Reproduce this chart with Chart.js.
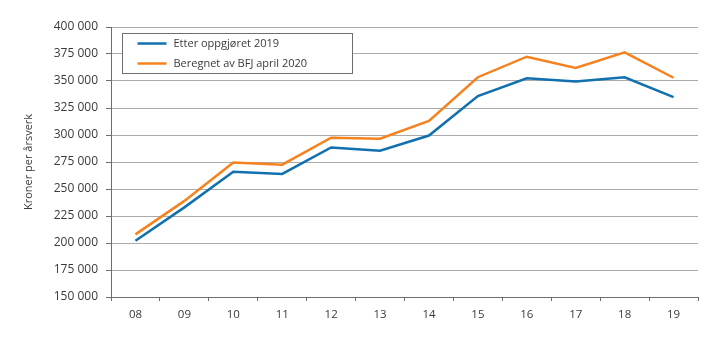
<!DOCTYPE html>
<html>
<head>
<meta charset="utf-8">
<script src="https://cdn.jsdelivr.net/npm/chart.js@4/dist/chart.umd.min.js"></script>
<style>
  html, body { margin: 0; padding: 0; background: #fff; }
  #wrap { width: 719px; height: 341px; }
</style>
</head>
<body>
<div id="wrap"><canvas id="chart" width="719" height="341"></canvas></div>
<script>
const years = ['08', '09', '10', '11', '12', '13', '14', '15', '16', '17', '18', '19'];
const etterOppgjoret = [202000, 233000, 266000, 264000, 288500, 285500, 299500, 336000, 352500, 349500, 353500, 335000];
const beregnetBFJ    = [208000, 239000, 274500, 272500, 297500, 296500, 313000, 353500, 372500, 362000, 376500, 353000];
const seriesNames = ['Etter oppgjøret 2019', 'Beregnet av BFJ april 2020'];
const yTitle = 'Kroner per årsverk';

const fontFamily = '"Open Sans", "Noto Sans", sans-serif';
const textColor = '#3a3a3a';

function fmt(v) {
  return String(v).replace(/\B(?=(\d{3})+(?!\d))/g, ' ');
}

// boxed legend drawn inside the plot area, top left
const boxLegend = {
  id: 'boxLegend',
  afterDraw(chart) {
    const ctx = chart.ctx;
    const x = 122.5, y = 33.5, w = 230, h = 40;
    ctx.save();
    ctx.fillStyle = '#fff';
    ctx.fillRect(x, y, w, h);
    ctx.strokeStyle = '#6e6e6e';
    ctx.lineWidth = 1;
    ctx.strokeRect(x, y, w, h);
    ctx.font = '11px ' + fontFamily;
    ctx.textBaseline = 'middle';
    chart.data.datasets.forEach(function(ds, i) {
      const ly = y + 10 + i * 20;
      ctx.strokeStyle = ds.borderColor;
      ctx.lineWidth = 2.5;
      ctx.beginPath();
      ctx.moveTo(x + 15, ly);
      ctx.lineTo(x + 44, ly);
      ctx.stroke();
      ctx.fillStyle = textColor;
      ctx.fillText(ds.label, x + 51, ly);
    });
    ctx.restore();
  }
};

new Chart(document.getElementById('chart').getContext('2d'), {
  type: 'line',
  data: {
    labels: years,
    datasets: [{
      label: seriesNames[0],
      data: etterOppgjoret,
      borderColor: '#1170ad',
      borderWidth: 2.5,
      pointRadius: 0,
      tension: 0
    }, {
      label: seriesNames[1],
      data: beregnetBFJ,
      borderColor: '#f5821f',
      borderWidth: 2.5,
      pointRadius: 0,
      tension: 0
    }]
  },
  options: {
    responsive: false,
    animation: false,
    layout: { padding: { top: 27, right: 21, bottom: 0, left: 0 } },
    plugins: {
      legend: { display: false },
      tooltip: { enabled: false }
    },
    scales: {
      x: {
        offset: true,
        afterFit(s) { s.height = 44; },
        grid: { drawOnChartArea: false, offset: true, tickLength: 4, color: '#6e6e6e' },
        border: { color: '#6e6e6e' },
        ticks: { color: textColor, padding: 7, font: { family: fontFamily, size: 11.5 } }
      },
      y: {
        min: 150000,
        max: 400000,
        afterFit(s) { s.width = 111; },
        title: {
          display: true,
          text: yTitle,
          color: textColor,
          padding: { top: 22, bottom: 0 },
          font: { family: fontFamily, size: 11 }
        },
        grid: { color: '#ababab', tickLength: 5, tickColor: '#6e6e6e' },
        border: { color: '#6e6e6e' },
        ticks: {
          stepSize: 25000,
          color: textColor,
          padding: 8,
          font: { family: fontFamily, size: 12 },
          callback: function(v) { return fmt(v); }
        }
      }
    }
  },
  plugins: [boxLegend]
});
</script>
</body>
</html>
